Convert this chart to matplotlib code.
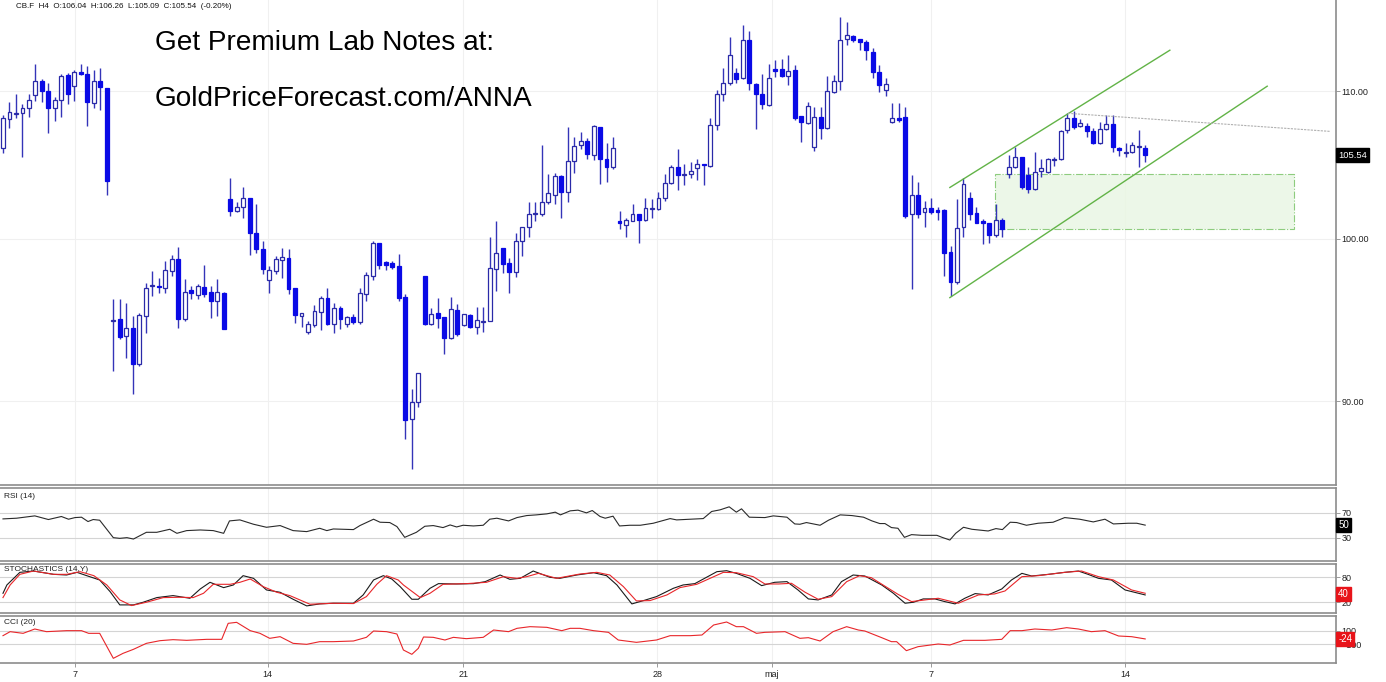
import numpy as np
import matplotlib
matplotlib.use("Agg")
from matplotlib import pyplot as plt
from matplotlib.patches import Rectangle
from matplotlib.ticker import FixedLocator, NullLocator, FuncFormatter

plt.rcParams['font.family'] = ['Liberation Sans', 'DejaVu Sans']

# ---- H4 candles, CB.F ----
opens = [106.01, 108.02, 108.40, 108.44, 108.79, 109.72, 110.72, 110.00, 108.79, 109.36,
         111.15, 110.36, 111.36, 111.22, 109.15, 110.72, 110.21, 94.80, 94.88, 93.91,
         94.33, 92.22, 95.13, 96.98, 96.96, 96.87, 97.95, 98.65, 94.95, 96.69,
         96.44, 96.87, 96.56, 96.06, 96.50, 102.56, 101.77, 102.03, 102.63, 100.33,
         99.29, 97.38, 97.95, 98.65, 98.71, 96.81, 95.13, 94.15, 94.58, 95.38,
         96.19, 94.64, 95.56, 94.64, 95.01, 94.76, 96.50, 97.63, 99.68, 98.46,
         98.39, 98.20, 96.25, 88.98, 89.97, 97.57, 94.64, 95.25, 95.01, 93.78,
         95.44, 94.58, 95.13, 94.45, 94.74, 94.82, 98.07, 99.35, 98.39, 97.88,
         99.81, 100.72, 101.60, 101.63, 102.36, 102.89, 104.10, 103.03, 105.12, 106.22,
         106.49, 105.53, 107.46, 105.26, 104.71, 101.11, 100.91, 101.17, 101.57, 101.24,
         101.90, 101.90, 102.63, 103.63, 104.71, 104.22, 104.24, 104.64, 104.92, 104.78,
         107.60, 109.79, 110.57, 111.29, 110.93, 113.70, 110.50, 109.79, 109.01, 111.58,
         111.58, 111.08, 111.51, 108.23, 107.74, 106.08, 108.16, 107.39, 109.93, 110.72,
         113.77, 113.99, 113.77, 113.55, 112.82, 111.36, 110.07, 107.81, 108.09, 108.16,
         101.57, 102.83, 101.70, 101.96, 101.83, 101.83, 99.10, 97.25, 100.72, 102.63,
         101.63, 101.11, 100.98, 100.20, 101.17, 104.24, 104.71, 105.39, 104.17, 103.23,
         104.44, 104.37, 105.24, 105.26, 107.25, 108.09, 107.53, 107.53, 107.18, 106.36,
         107.32, 107.67, 106.01, 105.67, 105.73, 106.13, 106.04]
highs = [108.30, 109.22, 109.79, 109.08, 109.79, 111.94, 110.86, 110.57, 109.57, 111.22,
         111.29, 111.51, 111.94, 111.80, 111.51, 111.65, 110.25, 96.19, 96.19, 95.94,
         95.13, 95.32, 97.19, 97.95, 97.50, 98.58, 98.97, 99.48, 97.44, 97.00,
         97.12, 98.33, 97.00, 97.44, 96.62, 103.97, 102.36, 103.36, 102.65, 102.29,
         99.87, 98.27, 98.90, 99.42, 99.35, 96.83, 95.32, 94.82, 95.81, 96.37,
         96.87, 95.94, 95.75, 95.13, 95.25, 96.87, 97.88, 99.87, 99.70, 98.58,
         98.58, 99.03, 96.50, 90.73, 91.64, 97.59, 95.62, 96.25, 95.03, 96.31,
         95.87, 95.25, 95.25, 95.69, 95.69, 100.07, 101.17, 99.37, 98.78, 100.39,
         100.78, 102.36, 102.36, 106.22, 104.24, 104.30, 104.17, 107.46, 106.77, 107.12,
         106.70, 107.60, 107.48, 106.36, 106.77, 101.77, 101.37, 102.23, 101.59, 102.69,
         102.56, 103.03, 104.24, 104.85, 105.94, 104.92, 105.05, 105.26, 104.94, 108.09,
         110.07, 111.65, 113.92, 111.65, 114.81, 114.37, 110.57, 111.22, 111.94, 112.23,
         112.30, 112.60, 111.87, 108.25, 109.22, 108.86, 108.86, 111.08, 111.15, 115.41,
         115.03, 114.07, 113.79, 113.70, 113.11, 111.87, 110.93, 109.15, 109.15, 108.86,
         104.17, 103.70, 102.49, 102.63, 102.03, 101.96, 99.55, 102.56, 103.97, 103.03,
         102.03, 101.30, 101.04, 102.29, 101.31, 105.53, 106.08, 105.41, 104.71, 105.73,
         105.26, 105.32, 105.39, 107.25, 108.44, 108.58, 108.02, 107.74, 107.39, 107.81,
         108.30, 108.30, 106.08, 106.36, 106.42, 107.25, 106.26]
lows = [105.67, 107.39, 108.09, 105.39, 108.16, 109.29, 109.22, 107.05, 107.88, 108.16,
        109.08, 109.29, 111.15, 107.53, 108.79, 108.65, 102.83, 91.80, 93.72, 92.58,
        90.44, 92.10, 94.09, 96.37, 96.56, 96.56, 97.63, 94.39, 94.82, 96.19,
        96.19, 96.31, 95.01, 95.13, 94.30, 101.50, 101.70, 101.31, 98.97, 99.10,
        97.76, 96.56, 97.76, 97.50, 96.50, 94.70, 94.45, 94.03, 94.45, 94.27,
        94.58, 94.09, 94.33, 94.45, 94.64, 94.64, 96.06, 97.38, 98.07, 98.01,
        98.07, 96.06, 87.84, 86.15, 89.68, 94.58, 94.58, 94.39, 92.82, 93.72,
        93.91, 94.52, 94.39, 94.03, 94.15, 94.80, 96.69, 97.82, 96.56, 97.57,
        98.90, 100.07, 101.17, 101.50, 102.29, 102.29, 101.37, 102.36, 104.30, 105.94,
        105.26, 105.19, 103.56, 103.70, 104.58, 100.59, 100.07, 101.11, 99.74, 101.17,
        101.37, 101.88, 102.43, 103.56, 103.16, 103.50, 103.97, 103.83, 103.50, 104.71,
        107.25, 109.29, 110.43, 110.57, 110.86, 110.07, 107.32, 108.72, 108.94, 111.00,
        111.00, 110.43, 107.95, 106.42, 107.67, 105.80, 106.63, 107.32, 109.86, 110.07,
        113.33, 113.55, 112.96, 112.23, 110.93, 109.93, 109.65, 107.74, 107.81, 101.37,
        96.81, 101.31, 100.72, 101.57, 101.24, 97.63, 96.37, 97.12, 100.07, 101.24,
        100.98, 99.68, 99.74, 100.13, 100.13, 103.97, 104.64, 103.29, 102.96, 103.16,
        104.04, 104.30, 104.78, 105.19, 107.05, 107.32, 107.46, 106.77, 106.29, 106.29,
        107.30, 105.73, 105.46, 105.39, 105.67, 104.71, 105.09]
closes = [108.09, 108.51, 108.45, 108.79, 109.36, 110.72, 110.00, 108.79, 109.36, 111.08,
          109.79, 111.36, 111.22, 109.22, 110.72, 110.29, 103.77, 94.85, 93.84, 94.33,
          92.22, 95.13, 96.81, 97.02, 96.92, 97.95, 98.65, 94.95, 96.56, 96.56,
          96.94, 96.50, 96.06, 96.56, 94.33, 101.77, 102.03, 102.63, 100.33, 99.35,
          98.07, 97.95, 98.65, 98.78, 96.81, 95.19, 95.25, 94.58, 95.38, 96.19,
          94.64, 95.56, 94.95, 95.01, 94.76, 96.50, 97.63, 99.68, 98.33, 98.33,
          98.20, 96.25, 88.93, 89.97, 91.62, 94.64, 95.19, 95.01, 93.78, 95.50,
          94.03, 95.19, 94.45, 94.82, 94.78, 98.07, 99.03, 98.39, 97.88, 99.81,
          100.72, 101.57, 101.65, 102.36, 102.96, 104.10, 103.03, 105.12, 106.15, 106.49,
          105.60, 107.53, 105.26, 104.71, 106.01, 100.98, 101.17, 101.57, 101.24, 101.96,
          101.96, 102.63, 103.63, 104.71, 104.17, 104.26, 104.44, 104.92, 104.85, 107.60,
          109.79, 110.57, 112.60, 110.86, 113.70, 110.57, 109.79, 109.08, 110.93, 111.44,
          111.08, 111.44, 108.09, 107.81, 108.94, 108.16, 107.39, 110.00, 110.72, 113.70,
          114.07, 113.70, 113.55, 112.96, 111.36, 110.43, 110.50, 108.09, 107.95, 101.50,
          102.83, 101.63, 101.96, 101.70, 101.70, 99.10, 97.25, 100.65, 103.56, 101.63,
          101.04, 100.98, 100.20, 101.17, 100.65, 104.71, 105.39, 103.36, 103.23, 104.37,
          104.64, 105.26, 105.28, 107.18, 108.09, 107.46, 107.74, 107.18, 106.36, 107.32,
          107.67, 106.08, 105.87, 105.73, 106.22, 106.17, 105.54]

date_ticks = [11.1, 40.8, 70.9, 100.8, 118.5, 143.0, 172.9]
date_labels = ['7', '14', '21', '28', 'maj', '7', '14']
price_ticks = [90, 100, 110]

# ---- indicators (bar index, value) ----
rsi_idx = [0, 2.1, 4.9, 7.0, 9.0, 10.1, 11.1, 12.1, 13.1, 13.9, 14.9, 17.0, 18.0, 19.1, 20.1,
           22.1, 23.7, 25.7, 26.8, 28.3, 30.4, 32.4, 34.0, 34.9, 36.5, 38.6, 40.6, 42.7, 44.7,
           46.8, 48.8, 49.9, 50.9, 54.0, 55.0, 57.1, 58.1, 59.6, 60.7, 61.9, 63.7, 65.0, 66.3,
           67.8, 68.9, 69.9, 70.9, 72.5, 74.0, 75.0, 76.1, 77.9, 79.2, 80.7, 82.2, 83.8, 85.1,
           85.9, 87.4, 88.6, 89.9, 90.8, 92.0, 92.8, 94.0, 95.0, 96.6, 98.2, 100.2, 102.8, 103.8,
           105.9, 107.9, 109.2, 110.5, 111.9, 113.0, 113.8, 115.0, 117.4, 118.7, 120.8, 122.0,
           122.8, 123.8, 125.9, 127.2, 129.0, 130.8, 132.6, 133.9, 135.1, 135.9, 136.9, 137.9,
           138.9, 140.0, 141.6, 143.9, 144.7, 145.9, 146.8, 148.0, 149.3, 151.8, 153.0, 154.0,
           155.2, 156.2, 157.7, 159.5, 161.8, 163.6, 165.9, 168.0, 169.8, 171.1, 173.4, 174.7, 176.0]
rsi_val = [59.9, 61.0, 64.7, 58.9, 63.7, 59.4, 62.0, 62.6, 55.7, 58.9, 57.8, 30.1, 29.0, 30.1, 27.9,
           38.6, 38.6, 43.4, 37.0, 41.3, 42.3, 41.3, 37.0, 56.7, 58.3, 51.4, 46.6, 49.3, 41.3,
           39.7, 45.0, 41.3, 43.9, 42.9, 49.3, 59.4, 54.6, 54.1, 47.7, 30.6, 38.6, 48.2, 49.3,
           46.1, 50.3, 47.1, 49.8, 48.7, 49.8, 59.4, 61.0, 56.7, 62.0, 65.2, 66.3, 67.9, 70.6,
           66.3, 72.7, 73.8, 69.5, 73.2, 63.7, 61.0, 64.2, 48.7, 49.8, 49.8, 53.0, 60.4, 58.3,
           59.4, 60.4, 71.7, 74.3, 79.1, 70.6, 75.9, 62.6, 62.0, 64.7, 62.6, 51.9,
           51.4, 54.1, 49.8, 57.8, 66.3, 65.2, 62.6, 56.7, 52.5, 52.5, 46.1, 45.0,
           30.6, 34.9, 33.8, 33.8, 30.6, 26.3, 37.0, 46.6, 43.4, 40.7, 44.5, 42.9,
           54.6, 54.1, 49.8, 53.0, 54.6, 62.0, 59.4, 55.1, 59.4, 51.9, 53.0, 53.0, 50.0]

stk_idx = [0, 0.6, 2.6, 4.7, 7.8, 9.8, 11.4, 12.9, 14.9, 16.5, 18.0, 20.1, 21.6, 23.7, 26.2, 28.8,
           30.4, 31.9, 34.0, 35.5, 37.0, 38.6, 40.6, 42.7, 44.7, 46.8, 48.8, 50.9, 54.0, 55.5,
           57.1, 58.6, 59.9, 61.2, 63.0, 64.0, 65.8, 67.1, 69.9, 72.5, 74.3, 76.6, 78.1, 79.7,
           81.7, 84.3, 85.8, 88.4, 91.0, 93.0, 94.6, 96.9, 98.7, 100.7, 103.3, 104.8, 106.6,
           110.0, 111.5, 113.0, 115.1, 116.9, 118.9, 120.8, 122.5, 124.1, 125.6, 127.7, 129.2,
           131.0, 132.8, 135.4, 137.2, 139.0, 140.3, 141.8, 143.6, 145.1, 146.7, 148.2, 149.8,
           151.8, 153.9, 155.4, 157.0, 158.5, 161.1, 163.6, 165.7, 167.2, 168.8, 170.8, 172.9, 176.0]
stk_val = [41.5, 61.5, 91.9, 95.1, 87.1, 85.5, 91.9, 83.9, 73.5, 45.5, 13.5, 13.5, 19.9, 31.1, 35.9, 29.5,
           51.9, 67.9, 55.1, 61.5, 83.9, 77.5, 49.5, 43.9, 27.1, 11.1, 15.9, 17.5, 17.5, 37.5,
           73.5, 83.9, 75.9, 57.5, 27.1, 27.1, 53.5, 64.7, 63.9, 64.7, 69.5, 85.5, 75.1, 77.5,
           95.1, 79.9, 77.5, 85.5, 91.1, 83.9, 61.5, 15.9, 23.9, 33.5, 53.5, 61.5, 64.7,
           93.5, 95.9, 89.5, 77.5, 59.9, 67.9, 69.5, 49.5, 27.9, 25.5, 37.5, 69.5,
           85.5, 83.1, 61.5, 41.5, 17.5, 19.9, 27.9, 27.9, 21.5, 15.9, 29.5, 40.7,
           37.5, 51.9, 73.5, 89.5, 83.1, 87.1, 91.9, 95.1, 87.1, 77.5, 73.5, 49.5, 37.5]

std_idx = [0, 1.1, 2.6, 4.7, 7.8, 9.8, 11.9, 14.0, 16.0, 18.0, 19.8, 22.1, 24.7, 27.3, 29.3, 30.9,
           32.4, 35.0, 36.5, 38.1, 40.1, 42.2, 44.2, 47.3, 50.9, 54.0, 56.0, 57.6, 59.1, 60.9,
           61.7, 64.3, 65.8, 67.8, 71.4, 74.5, 77.1, 79.2, 80.7, 82.5, 85.3, 88.9, 91.5, 93.5,
           95.6, 97.6, 99.7, 102.3, 104.3, 106.9, 111.0, 113.0, 115.6, 117.4, 119.5, 121.5,
           123.6, 125.6, 127.7, 130.0, 132.0, 133.8, 137.9, 140.0, 142.1, 144.1, 147.2, 150.3,
           152.8, 154.4, 157.0, 159.5, 163.6, 166.2, 168.8, 171.1, 173.9, 176.0]
std_val = [31.1, 61.5, 87.1, 95.1, 87.1, 87.1, 93.5, 83.9, 61.5, 25.5, 11.9, 19.9, 31.1, 31.9, 31.1, 41.5,
           63.1, 63.1, 67.9, 75.9, 57.5, 43.9, 35.9, 15.1, 17.5, 16.7, 33.5, 63.1, 83.9, 73.5,
           61.5, 31.1, 41.5, 63.1, 64.7, 67.9, 81.5, 77.5, 81.5, 89.5, 77.5, 87.9, 91.9, 85.5,
           57.5, 23.1, 23.9, 37.5, 55.1, 63.1, 91.9, 91.1, 81.5, 63.9, 63.9, 65.5,
           43.9, 27.1, 33.5, 69.5, 83.9, 79.1, 39.1, 21.5, 25.5, 29.5, 17.5, 37.5,
           39.9, 47.1, 81.5, 83.9, 91.9, 95.1, 81.5, 73.5, 49.5, 41.5]

cci_idx = [0, 1.1, 3.1, 4.9, 6.7, 9.8, 12.1, 13.2, 14.9, 17.0, 18.5, 20.1, 22.1, 24.2, 26.2, 28.3,
           31.4, 33.7, 34.7, 36.0, 38.1, 39.6, 41.1, 42.7, 44.7, 46.8, 48.8, 50.9, 54.0, 56.0,
           57.1, 59.1, 60.7, 61.7, 63.0, 64.0, 64.8, 66.3, 68.1, 69.4, 71.4, 74.0, 75.6, 77.9,
           79.2, 81.2, 83.8, 86.1, 87.4, 88.9, 91.0, 93.3, 94.8, 97.6, 100.7, 102.8, 105.9,
           107.7, 109.5, 111.5, 113.0, 114.1, 116.1, 117.4, 120.5, 122.8, 124.1, 125.9, 127.9,
           130.0, 131.8, 132.8, 135.4, 136.9, 137.7, 139.2, 141.0, 144.1, 145.9, 148.0, 151.3,
           153.9, 155.2, 157.0, 159.0, 161.6, 163.9, 165.7, 167.7, 169.8, 171.9, 173.9, 176.0]
cci_val = [25, 85, 60, 125, 85, 100, 100, 60, 60, -315, -240, -180, -90, -50, -35, -45,
           -30, -30, 210, 225, 100, 60, -15, 10, -90, -105, -65, -65, -55, 0,
           95, 85, 50, -190, -255, -165, 5, 0, -40, 0, -20, 0, 110, 85,
           135, 160, 150, 100, 135, 135, 100, 75, -40, -75, -40, 25, 25,
           35, 185, 230, 160, 160, 60, 75, 85, -15, -5, -55, 85,
           160, 110, 95, -5, -65, -65, -200, -140, -100, -115, -45, -45,
           -30, 100, 100, 125, 110, 145, 125, 85, 100, 20, 10, -24]

# drawn tools on the chart: (bar index, price)
channel_top = [(145.9, 103.36), (179.8, 112.96)]
channel_bot = [(145.9, 96.25), (194.8, 110.36)]
res_line = [(164.1, 108.44), (204.5, 107.18)]
zone = (152.9, 198.9, 100.65, 104.24)

# ---- figure layout (pixel based) ----
W, H = 1386.0, 682.0
RIGHT = 1336.0

def panel(top, bottom):
    return [0.0, 1 - bottom / H, RIGHT / W, (bottom - top) / H]

fig = plt.figure(figsize=(W / 100, H / 100), dpi=100)
ax = fig.add_axes(panel(0, 485))
ax_rsi = fig.add_axes(panel(488, 561))
ax_sto = fig.add_axes(panel(564, 613))
ax_cci = fig.add_axes(panel(616, 663))

XLIM = (-0.46, 205.4)
spine_col = '#8c8c8c'
grid_col = '#f0f0f0'
lvl_col = '#d4d4d4'

for a in (ax, ax_rsi, ax_sto, ax_cci):
    a.set_xlim(*XLIM)
    a.spines['left'].set_visible(False)
    a.spines['top'].set_visible(a is not ax)
    for s in ('top', 'bottom', 'right'):
        a.spines[s].set_color(spine_col)
        a.spines[s].set_linewidth(1.2)
    a.yaxis.tick_right()
    a.tick_params(axis='y', which='both', length=3, width=0.6, color=spine_col,
                  labelsize=6.5, labelcolor='#222222', pad=1)
    a.xaxis.set_major_locator(FixedLocator(date_ticks))
    for t in date_ticks:
        a.axvline(t, color=grid_col, lw=0.8, zorder=0)
    a.set_facecolor('white')

for a in (ax, ax_rsi, ax_sto):
    a.tick_params(axis='x', which='both', length=0, labelbottom=False)

ax_cci.set_xticklabels(date_labels)
ax_cci.tick_params(axis='x', length=3, width=0.6, color=spine_col, labelsize=6.5,
                   labelcolor='#222222', pad=2)

# ---- candles ----
o = np.array(opens); h = np.array(highs); l = np.array(lows); c = np.array(closes)
x = np.arange(len(o))
up = c >= o
body_lo = np.minimum(o, c)
body_hi = np.maximum(o, c)
wick_col = '#3434b8'
fill_col = '#0a0ae6'

ax.set_yscale('log')
ax.set_ylim(85.26, 116.69)
ax.yaxis.set_major_locator(FixedLocator(price_ticks))
ax.yaxis.set_minor_locator(NullLocator())
ax.yaxis.set_major_formatter(FuncFormatter(lambda v, p: '%.2f' % v))
for p in price_ticks:
    ax.axhline(p, color=grid_col, lw=0.8, zorder=0)

ax.vlines(x, l, h, color=wick_col, lw=1.0, zorder=2)
ax.bar(x[up], body_hi[up] - body_lo[up] + 0.02, bottom=body_lo[up], width=0.6,
       facecolor='white', edgecolor='#2a2aa8', linewidth=0.9, zorder=3)
ax.bar(x[~up], body_hi[~up] - body_lo[~up] + 0.02, bottom=body_lo[~up], width=0.6,
       facecolor=fill_col, edgecolor=fill_col, linewidth=0.9, zorder=3)

# ---- drawings ----
green = '#62b347'
ax.plot(*zip(*channel_top), color=green, lw=1.0, zorder=4)
ax.plot(*zip(*channel_bot), color=green, lw=1.0, zorder=4)
ax.plot(*zip(*res_line), color='#b0b0b0', lw=0.8, ls=(0, (2, 1)), zorder=4)
zx0, zx1, zy0, zy1 = zone
ax.add_patch(Rectangle((zx0, zy0), zx1 - zx0, zy1 - zy0, facecolor='#e9f6e4',
                       edgecolor='#7cc46a', lw=0.8, ls='-.', alpha=0.85, zorder=1))

# last price tag
ax.annotate('%.2f' % closes[-1], xy=(1.0, closes[-1]), xycoords=('axes fraction', 'data'),
            xytext=(1.5, 0), textcoords='offset points', ha='left', va='center',
            fontsize=6.8, color='white',
            bbox=dict(boxstyle='square,pad=0.25', fc='black', ec='black'), zorder=10,
            annotation_clip=False)

fig.text(16 / W, 1 - 7 / H, 'CB.F  H4  O:106.04  H:106.26  L:105.09  C:105.54  (-0.20%)',
         fontsize=5.8, color='#111111', va='center', ha='left')
fig.text(155 / W, 1 - 43 / H, 'Get Premium Lab Notes at:', fontsize=20.2,
         color='black', va='center', ha='left')
fig.text(155 / W, 1 - 99 / H, 'GoldPriceForecast.com/ANNA', fontsize=20.2,
         color='black', va='center', ha='left')

# ---- RSI ----
ax_rsi.set_ylim(-7, 109)
ax_rsi.set_yticks([70, 30])
for v in (70, 30):
    ax_rsi.axhline(v, color=lvl_col, lw=0.8, zorder=0)
ax_rsi.plot(rsi_idx, rsi_val, color='#2a2a2a', lw=0.8)
ax_rsi.text(4 / RIGHT, 0.93, 'RSI (14)', transform=ax_rsi.transAxes, fontsize=6,
            va='top', ha='left', color='#222222')

# ---- Stochastics ----
ax_sto.set_ylim(-6, 112)
ax_sto.set_yticks([80, 20])
for v in (80, 20):
    ax_sto.axhline(v, color=lvl_col, lw=0.8, zorder=0)
ax_sto.plot(stk_idx, stk_val, color='#1a1a1a', lw=0.8)
ax_sto.plot(std_idx, std_val, color='#e8262a', lw=0.8)
ax_sto.text(4 / RIGHT, 0.96, 'STOCHASTICS (14,Y)', transform=ax_sto.transAxes, fontsize=6,
            va='top', ha='left', color='#222222')

# ---- CCI ----
ax_cci.set_ylim(-385, 320)
ax_cci.set_yticks([100, -100])
for v in (100, -100):
    ax_cci.axhline(v, color=lvl_col, lw=0.8, zorder=0)
ax_cci.plot(cci_idx, cci_val, color='#e8262a', lw=0.8)
ax_cci.text(4 / RIGHT, 0.93, 'CCI (20)', transform=ax_cci.transAxes, fontsize=6,
            va='top', ha='left', color='#222222')

# value tags on indicator axes
tags = [(ax_rsi, 50, '50', 'black'), (ax_sto, 40, '40', '#e8141a'), (ax_cci, -24, '-24', '#e8141a')]
for a, v, s, col in tags:
    a.annotate(s, xy=(1.0, v), xycoords=('axes fraction', 'data'), xytext=(1.5, 0),
               textcoords='offset points', ha='left', va='center', fontsize=7,
               color='white', bbox=dict(boxstyle='square,pad=0.2', fc=col, ec=col),
               zorder=10, annotation_clip=False)

fig.savefig('out.png', dpi=100, facecolor='white')
